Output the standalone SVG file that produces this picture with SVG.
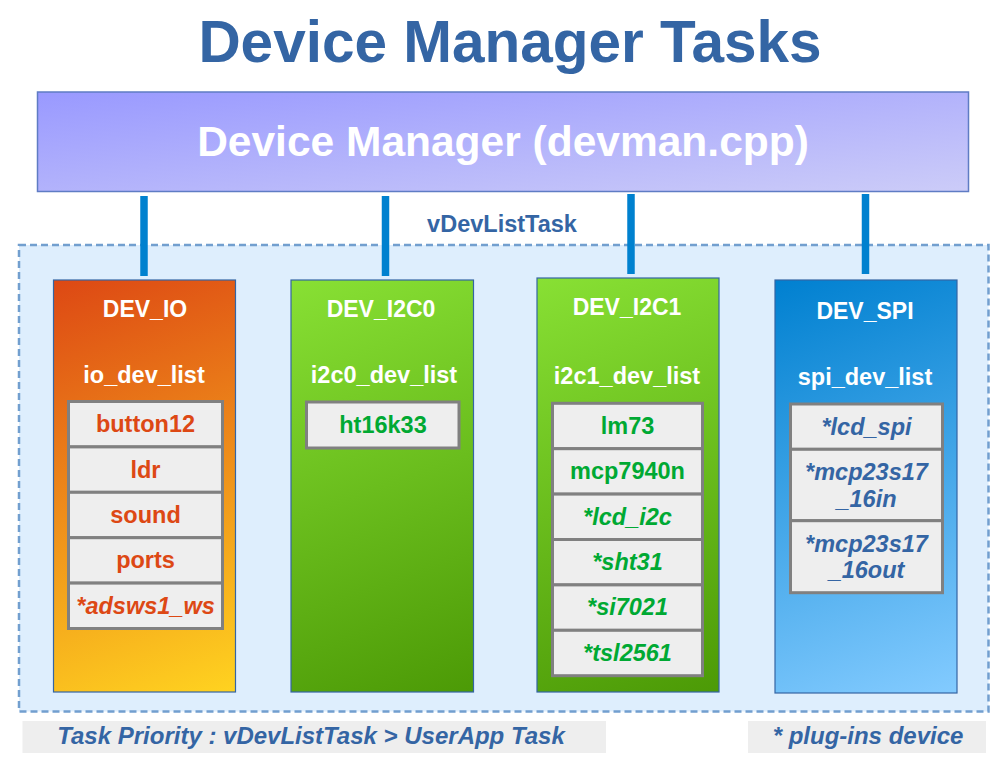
<svg xmlns="http://www.w3.org/2000/svg" width="1005" height="760" viewBox="0 0 1005 760">
<defs>
<linearGradient id="gHead" x1="0" y1="0" x2="1" y2="1"><stop offset="0" stop-color="#9999ff"/><stop offset="1" stop-color="#ccccf8"/></linearGradient>
<linearGradient id="gIO" gradientUnits="userSpaceOnUse" x1="53.5" y1="280" x2="207.2" y2="702.5"><stop offset="0" stop-color="#dd4814"/><stop offset="1" stop-color="#ffd320"/></linearGradient>
<linearGradient id="gGreen0" gradientUnits="userSpaceOnUse" x1="291" y1="280" x2="444.8" y2="702.7"><stop offset="0" stop-color="#88e034"/><stop offset="1" stop-color="#4c9a06"/></linearGradient>
<linearGradient id="gGreen1" gradientUnits="userSpaceOnUse" x1="537" y1="278" x2="691.4" y2="702.3"><stop offset="0" stop-color="#88e034"/><stop offset="1" stop-color="#4c9a06"/></linearGradient>
<linearGradient id="gSPI" gradientUnits="userSpaceOnUse" x1="775" y1="280" x2="929" y2="703.4"><stop offset="0" stop-color="#0080d0"/><stop offset="1" stop-color="#83cbff"/></linearGradient>
</defs>
<style>
text{font-family:"Liberation Sans",Arial,sans-serif;font-weight:bold;text-anchor:middle}
.title{font-size:58.5px;fill:#3465a4}
.head{font-size:42.5px;fill:#ffffff}
.col{stroke:#3465a4;stroke-width:1.2}
.hdr{font-size:23px;fill:#ffffff}
.item{fill:#eeeeee;stroke:#808080;stroke-width:3}
.t{font-size:23.5px}
.n{font-size:24px}
.it{font-style:italic}
.r{fill:#dd4814}
.g{fill:#00a933}
.b{fill:#3465a4}
.conn{stroke:#0081cf;stroke-width:7.5}
.note{fill:#eeeeee}
</style>
<rect width="1005" height="760" fill="#ffffff"/>
<text id="title" class="title" x="510" y="62">Device Manager Tasks</text>
<g id="devman">
<rect x="37.5" y="92" width="931" height="99.5" fill="url(#gHead)" stroke="#5f7cc4" stroke-width="1.5"/>
<text class="head" x="503" y="156">Device Manager (devman.cpp)</text>
</g>
<g id="vDevListTask">
<rect x="19" y="245" width="969.5" height="466.5" fill="#deeefd" stroke="#729fcf" stroke-width="2.5" stroke-dasharray="7 4"/>
<text class="t b" x="502" y="232">vDevListTask</text>
</g>
<g id="connectors">
<line class="conn" x1="144" y1="196" x2="144" y2="276"/>
<line class="conn" x1="385.5" y1="196" x2="385.5" y2="276"/>
<line class="conn" x1="631" y1="194" x2="631" y2="274"/>
<line class="conn" x1="865.5" y1="194" x2="865.5" y2="274"/>
</g>
<g id="dev_io">
<rect class="col" x="53.5" y="280" width="182" height="412" fill="url(#gIO)"/>
<text class="hdr" x="145" y="317">DEV_IO</text>
<text class="t" x="144" y="383" fill="#fff">io_dev_list</text>
<rect class="item" x="68.5" y="401.5" width="154" height="45.4"/>
<rect class="item" x="68.5" y="446.9" width="154" height="45.4"/>
<rect class="item" x="68.5" y="492.3" width="154" height="45.4"/>
<rect class="item" x="68.5" y="537.7" width="154" height="45.4"/>
<rect class="item" x="68.5" y="583.1" width="154" height="45.4"/>
<text class="t r" x="145.5" y="432">button12</text>
<text class="t r" x="145.5" y="477.5">ldr</text>
<text class="t r" x="145.5" y="523">sound</text>
<text class="t r" x="145.5" y="568.3">ports</text>
<text class="t r it" x="145.5" y="613.7">*adsws1_ws</text>
</g>
<g id="dev_i2c0">
<rect class="col" x="291" y="280" width="182.5" height="412" fill="url(#gGreen0)"/>
<text class="hdr" x="381" y="317">DEV_I2C0</text>
<text class="t" x="384" y="383" fill="#fff">i2c0_dev_list</text>
<rect class="item" x="306.5" y="402" width="152.5" height="46"/>
<text class="t g" x="383" y="432.5">ht16k33</text>
</g>
<g id="dev_i2c1">
<rect class="col" x="537" y="278" width="182" height="414" fill="url(#gGreen1)"/>
<text class="hdr" x="627" y="315">DEV_I2C1</text>
<text class="t" x="627" y="384" fill="#fff">i2c1_dev_list</text>
<rect class="item" x="552.5" y="403.3" width="150" height="45.4"/>
<rect class="item" x="552.5" y="448.7" width="150" height="45.4"/>
<rect class="item" x="552.5" y="494.1" width="150" height="45.4"/>
<rect class="item" x="552.5" y="539.5" width="150" height="45.4"/>
<rect class="item" x="552.5" y="584.9" width="150" height="45.4"/>
<rect class="item" x="552.5" y="630.3" width="150" height="45.4"/>
<text class="t g" x="627.5" y="433.5">lm73</text>
<text class="t g" x="627.5" y="479">mcp7940n</text>
<text class="t g it" x="627.5" y="524.5">*lcd_i2c</text>
<text class="t g it" x="627.5" y="570">*sht31</text>
<text class="t g it" x="627.5" y="615.3">*si7021</text>
<text class="t g it" x="627.5" y="660.8">*tsl2561</text>
</g>
<g id="dev_spi">
<rect class="col" x="775" y="280" width="182" height="413" fill="url(#gSPI)"/>
<text class="hdr" x="865" y="319">DEV_SPI</text>
<text class="t" x="865" y="385" fill="#fff">spi_dev_list</text>
<rect class="item" x="790.5" y="404" width="152" height="45.3"/>
<rect class="item" x="790.5" y="449.3" width="152" height="71.4"/>
<rect class="item" x="790.5" y="520.7" width="152" height="72"/>
<text class="t b it" x="866.5" y="434.5">*lcd_spi</text>
<text class="t b it" x="866.5" y="480">*mcp23s17</text>
<text class="t b it" x="866.5" y="506.7">_16in</text>
<text class="t b it" x="866.5" y="551.7">*mcp23s17</text>
<text class="t b it" x="866.5" y="578.3">_16out</text>
</g>
<g id="note_priority">
<rect class="note" x="22.5" y="721" width="583.5" height="32"/>
<text class="n b it" x="311" y="744.3">Task Priority : vDevListTask &gt; UserApp Task</text>
</g>
<g id="note_plugins">
<rect class="note" x="748" y="721" width="238" height="32"/>
<text class="n b it" x="868" y="744.3">* plug-ins device</text>
</g>
</svg>
